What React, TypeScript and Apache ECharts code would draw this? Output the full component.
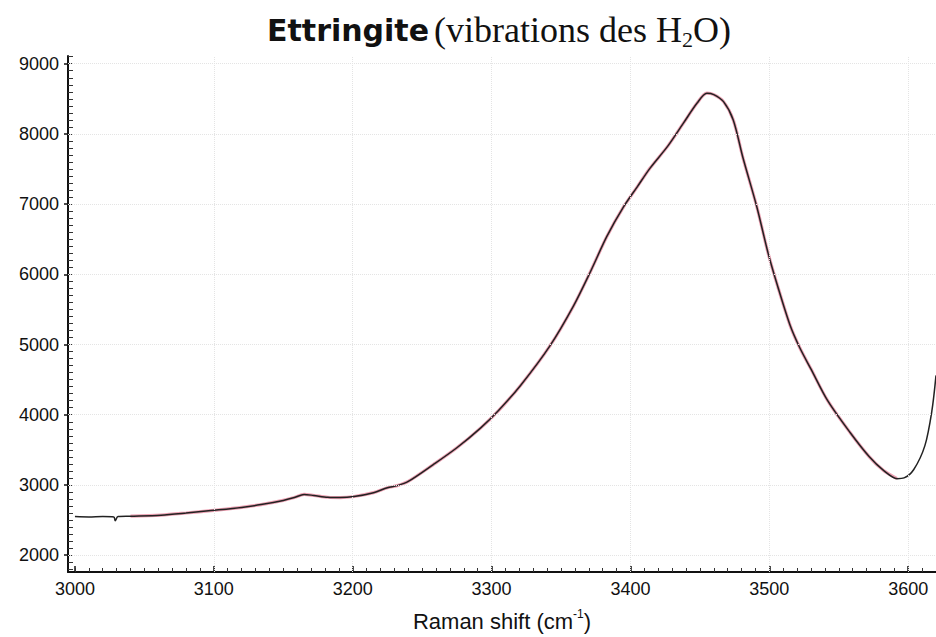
import React, { useEffect, useRef } from "react";
import * as echarts from "echarts";

// Raman shift (cm-1) and measured intensity (counts)
const ramanShift = [
  3000, 3010, 3020, 3028, 3029, 3031, 3040, 3062, 3080, 3098, 3120, 3134, 3150, 3158, 3165,
  3172, 3182, 3191, 3201, 3215, 3225, 3232, 3240, 3258, 3275, 3292, 3305, 3321, 3342, 3359,
  3371, 3383, 3395, 3405, 3414, 3427, 3438, 3448, 3455, 3460, 3467, 3474, 3481, 3491, 3499,
  3506, 3515, 3522, 3530, 3542, 3558, 3572, 3582, 3592, 3597, 3604, 3612, 3617, 3620,
];
const intensity = [
  2550, 2545, 2550, 2545, 2490, 2550, 2555, 2570, 2600, 2635, 2680, 2720, 2780, 2820, 2865,
  2850, 2825, 2820, 2835, 2890, 2960, 2990, 3050, 3290, 3530, 3810, 4060, 4420, 4980, 5550,
  6030, 6540, 6960, 7250, 7510, 7830, 8150, 8440, 8580, 8560, 8460, 8200, 7660, 6960, 6310,
  5830, 5270, 4950, 4650, 4200, 3750, 3400, 3210, 3090, 3100, 3220, 3560, 4050, 4560,
];

// fitted envelope range (red curve)
const fitStart = 3040;
const fitEnd = 3592;

const xTickLabels = [3000, 3100, 3200, 3300, 3400, 3500, 3600];
const yTickLabels = [2000, 3000, 4000, 5000, 6000, 7000, 8000, 9000];

const X_MIN = 2995;
const X_MAX = 3620;
const Y_MIN = 1760;
const Y_MAX = 9110;

export default function App() {
  const ref = useRef<HTMLDivElement>(null);

  useEffect(() => {
    if (!ref.current) return;
    const chart = echarts.init(ref.current, undefined, { renderer: "svg" });

    const measured = ramanShift.map((x, i) => [x, intensity[i]]);
    const fit = measured.filter((p) => p[0] >= fitStart && p[0] <= fitEnd);

    const xMinor: number[] = [];
    for (let v = 3000; v <= X_MAX; v += 10) xMinor.push(v);
    const yMinor: number[] = [];
    for (let v = 1800; v <= 9100; v += 100) yMinor.push(v);

    const labelFont = {
      fontFamily: "Liberation Sans, Arial, sans-serif",
      fontSize: 18,
      color: "#111",
      formatter: (v: number) => String(v),
    };

    chart.setOption({
      animation: false,
      backgroundColor: "#fff",
      title: {
        text: "{a|Ettringite} {b|(vibrations des H}{s|2}{b|O)}",
        left: 262,
        top: 5,
        textStyle: {
          fontWeight: "normal",
          rich: {
            a: {
              fontFamily: "DejaVu Sans",
              fontWeight: "bold",
              fontSize: 30,
              color: "#111",
              lineHeight: 40,
            },
            b: {
              fontFamily: "Liberation Serif",
              fontWeight: "normal",
              fontSize: 36,
              color: "#111",
              lineHeight: 40,
            },
            s: {
              fontFamily: "Liberation Serif",
              fontWeight: "normal",
              fontSize: 22,
              color: "#111",
              lineHeight: 20,
              verticalAlign: "bottom",
            },
          },
        },
      },
      grid: { left: 68, right: 0, top: 56, bottom: 62, containLabel: false },
      xAxis: [
        {
          type: "value",
          min: X_MIN,
          max: X_MAX,
          name: "{n|Raman shift (cm}{sup|-1}{n|)}",
          nameLocation: "middle",
          nameGap: 36,
          nameTextStyle: {
            rich: {
              n: {
                fontFamily: "Liberation Sans, Arial, sans-serif",
                fontSize: 22,
                color: "#111",
                lineHeight: 26,
              },
              sup: {
                fontFamily: "Liberation Sans, Arial, sans-serif",
                fontSize: 12,
                color: "#111",
                lineHeight: 12,
                verticalAlign: "top",
              },
            },
          },
          axisLine: { show: true, lineStyle: { color: "#111", width: 2 } },
          axisTick: {
            show: true,
            inside: true,
            length: 6,
            customValues: xTickLabels,
            lineStyle: { color: "#111", width: 1.5 },
          },
          axisLabel: { ...labelFont, margin: 8, customValues: xTickLabels },
          splitLine: { show: false },
        },
        {
          type: "value",
          min: X_MIN,
          max: X_MAX,
          position: "bottom",
          axisLine: { show: false },
          axisTick: {
            show: true,
            inside: true,
            length: 4,
            customValues: xMinor,
            lineStyle: { color: "#333", width: 1 },
          },
          axisLabel: { show: false },
          splitLine: { show: false },
        },
      ],
      yAxis: [
        {
          type: "value",
          min: Y_MIN,
          max: Y_MAX,
          position: "left",
          axisLine: { show: true, lineStyle: { color: "#111", width: 2 } },
          axisTick: {
            show: true,
            inside: false,
            length: 4,
            customValues: yTickLabels,
            lineStyle: { color: "#111", width: 1.5 },
          },
          axisLabel: { ...labelFont, margin: 9, customValues: yTickLabels },
          splitLine: { show: false },
        },
        {
          type: "value",
          min: Y_MIN,
          max: Y_MAX,
          position: "left",
          axisLine: { show: false },
          axisTick: {
            show: true,
            inside: true,
            length: 5,
            customValues: yMinor,
            lineStyle: { color: "#333", width: 1 },
          },
          axisLabel: { show: false },
          splitLine: { show: false },
        },
      ],
      series: [
        {
          name: "fit",
          type: "line",
          data: fit,
          showSymbol: false,
          symbol: "none",
          smooth: 0.3,
          lineStyle: { color: "#e0607e", width: 3.2, opacity: 0.6 },
          silent: true,
          z: 2,
        },
        {
          name: "measured",
          type: "line",
          data: measured,
          showSymbol: false,
          symbol: "none",
          smooth: 0.3,
          lineStyle: { color: "#222", width: 1.5 },
          silent: true,
          z: 3,
          markLine: {
            silent: true,
            symbol: "none",
            label: { show: false },
            lineStyle: { color: "#e4e4e4", type: "dotted", width: 1 },
            data: [
              ...xTickLabels.slice(1).map((v) => ({ xAxis: v })),
              ...yTickLabels.map((v) => ({ yAxis: v })),
            ],
          },
        },
      ],
    });

    return () => chart.dispose();
  }, []);

  return (
    <div
      ref={ref}
      style={{ position: "fixed", left: 0, top: 0, width: 936, height: 637 }}
    />
  );
}
